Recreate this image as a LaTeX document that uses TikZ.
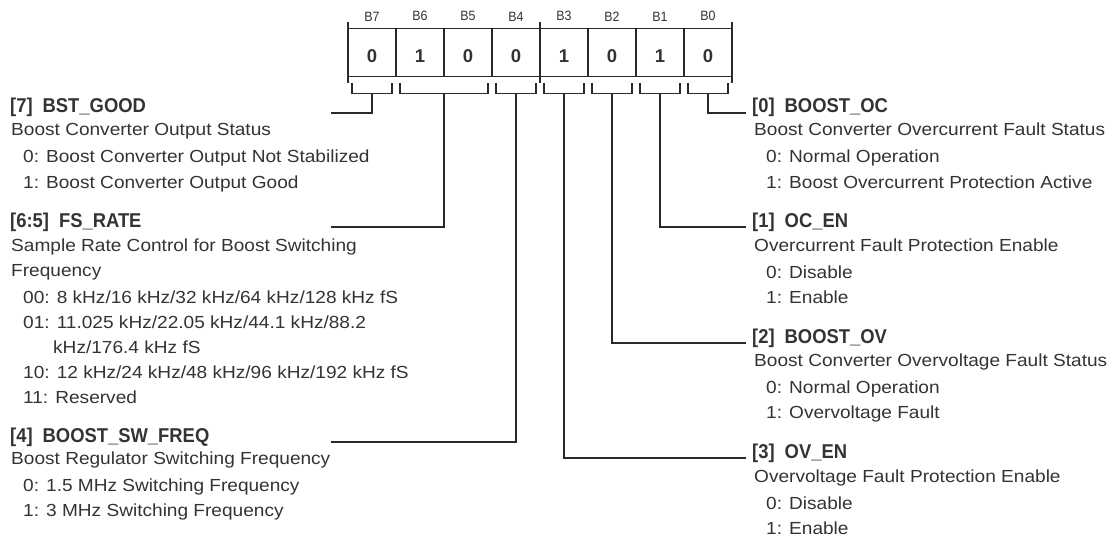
\documentclass[tikz,border=0pt]{standalone}
\usepackage{fontspec}
\setmainfont{Liberation Sans}
\newfontfamily\bodyfont[FakeStretch=1.09]{Liberation Sans}
\newfontfamily\headfont[FakeStretch=0.92]{Liberation Sans}
\usetikzlibrary{positioning,calc}

\definecolor{ink}{HTML}{333333}
\definecolor{linec}{HTML}{2A2A2A}
\newcommand\ttlfont{\headfont\fontsize{20}{25}\selectfont\bfseries}
\newcommand\txtfont{\bodyfont\fontsize{17.5}{25}\selectfont}
\newcommand\optln[1]{\hspace*{12pt}#1}

\begin{document}
\begin{tikzpicture}[
  x=1pt,y=-1pt,
  node distance=0pt,
  reg/.style={draw=linec,line width=1.4pt},
  cell/.style={reg,minimum width=48pt,minimum height=48.5pt,inner sep=0pt,
               outer sep=0pt,font=\fontsize{18.5}{20}\selectfont\bfseries,
               text=ink,text height=21pt,text depth=0pt},
  bit/.style={font=\headfont\fontsize{13.5}{14}\selectfont,text=ink,inner sep=0pt},
  lead/.style={draw=linec,line width=1.4pt},
  ttl/.style={anchor=base west,inner sep=0pt,font=\ttlfont,text=ink},
  txt/.style={anchor=base west,inner sep=0pt,font=\txtfont,text=ink}
]
\useasboundingbox (0,0) rectangle (1115,540);

% register cells
\node[cell] (b7) at (372,52.5) {0};
\node[cell,right=of b7] (b6) {1};
\node[cell,right=of b6] (b5) {0};
\node[cell,right=of b5] (b4) {0};
\node[cell,right=of b4] (b3) {1};
\node[cell,right=of b3] (b2) {0};
\node[cell,right=of b2] (b1) {1};
\node[cell,right=of b1] (b0) {0};
\foreach \i in {7,...,0}
  \node[bit,above=7pt of b\i] (l\i) {B\i};

\draw[reg] ([yshift=6.5pt]b7.north west) -- ([yshift=-6.5pt]b7.south west);
\draw[reg] ([yshift=6.5pt]b4.north east) -- ([yshift=-6.5pt]b4.south east);
\draw[reg] ([yshift=6.5pt]b0.north east) -- ([yshift=-6.5pt]b0.south east);

% brackets under the fields
\foreach \l/\r/\n in {b7/b7/7,b6/b5/65,b4/b4/4,b3/b3/3,b2/b2/2,b1/b1/1,b0/b0/0}{
  \draw[reg] ($(\l.south west)+(4,6.5)$) -- ++(0,10.5)
    -| ($(\r.south east)+(-4,6.5)$);
  \coordinate (s\n) at ($(\l.south west)!0.5!(\r.south east)+(0,17)$);
}
\coordinate (jl) at (331,0);
\coordinate (jr) at (746,0);

% left fields
\node[ttl] (t7) at (10,113) {[7]\hspace{10pt}BST\_GOOD};
\node[txt] (d7) at ([shift={(1,23)}]t7.base west) {\begin{tabular}[t]{@{}l@{}}
  Boost Converter Output Status\\[2pt]
  \optln{0: Boost Converter Output Not Stabilized}\\
  \optln{1: Boost Converter Output Good}
\end{tabular}};

\node[ttl] (t65) at (10,227) {[6:5]\hspace{10pt}FS\_RATE};
\node[txt] (d65) at ([shift={(1,24)}]t65.base west) {\begin{tabular}[t]{@{}l@{}}
  Sample Rate Control for Boost Switching\\
  Frequency\\[2pt]
  \optln{00: 8 kHz/16 kHz/32 kHz/64 kHz/128 kHz fS}\\
  \optln{01: 11.025 kHz/22.05 kHz/44.1 kHz/88.2}\\
  \hspace*{42pt}kHz/176.4 kHz fS\\
  \optln{10: 12 kHz/24 kHz/48 kHz/96 kHz/192 kHz fS}\\
  \optln{11: Reserved}
\end{tabular}};

\node[ttl] (t4) at (10,442) {[4]\hspace{10pt}BOOST\_SW\_FREQ};
\node[txt] (d4) at ([shift={(1,22)}]t4.base west) {\begin{tabular}[t]{@{}l@{}}
  Boost Regulator Switching Frequency\\[2pt]
  \optln{0: 1.5 MHz Switching Frequency}\\
  \optln{1: 3 MHz Switching Frequency}
\end{tabular}};

% right fields
\node[ttl] (t0) at (752,113) {[0]\hspace{10pt}BOOST\_OC};
\node[txt] (d0) at ([shift={(2,23)}]t0.base west) {\begin{tabular}[t]{@{}l@{}}
  Boost Converter Overcurrent Fault Status\\[2pt]
  \optln{0: Normal Operation}\\
  \optln{1: Boost Overcurrent Protection Active}
\end{tabular}};

\node[ttl] (t1) at (752,227) {[1]\hspace{10pt}OC\_EN};
\node[txt] (d1) at ([shift={(2,24)}]t1.base west) {\begin{tabular}[t]{@{}l@{}}
  Overcurrent Fault Protection Enable\\[2pt]
  \optln{0: Disable}\\
  \optln{1: Enable}
\end{tabular}};

\node[ttl] (t2) at (752,343) {[2]\hspace{10pt}BOOST\_OV};
\node[txt] (d2) at ([shift={(2,23)}]t2.base west) {\begin{tabular}[t]{@{}l@{}}
  Boost Converter Overvoltage Fault Status\\[2pt]
  \optln{0: Normal Operation}\\
  \optln{1: Overvoltage Fault}
\end{tabular}};

\node[ttl] (t3) at (752,458) {[3]\hspace{10pt}OV\_EN};
\node[txt] (d3) at ([shift={(2,24)}]t3.base west) {\begin{tabular}[t]{@{}l@{}}
  Overvoltage Fault Protection Enable\\[2pt]
  \optln{0: Disable}\\
  \optln{1: Enable}
\end{tabular}};

% leaders from the brackets to the fields
\draw[lead] (s7) |- (t7.base -| jl);
\draw[lead] (s65) |- (t65.base -| jl);
\draw[lead] (s4) |- (t4.base -| jl);
\draw[lead] (s3) |- (t3.base -| jr);
\draw[lead] (s2) |- (t2.base -| jr);
\draw[lead] (s1) |- (t1.base -| jr);
\draw[lead] (s0) |- (t0.base -| jr);
\end{tikzpicture}
\end{document}
